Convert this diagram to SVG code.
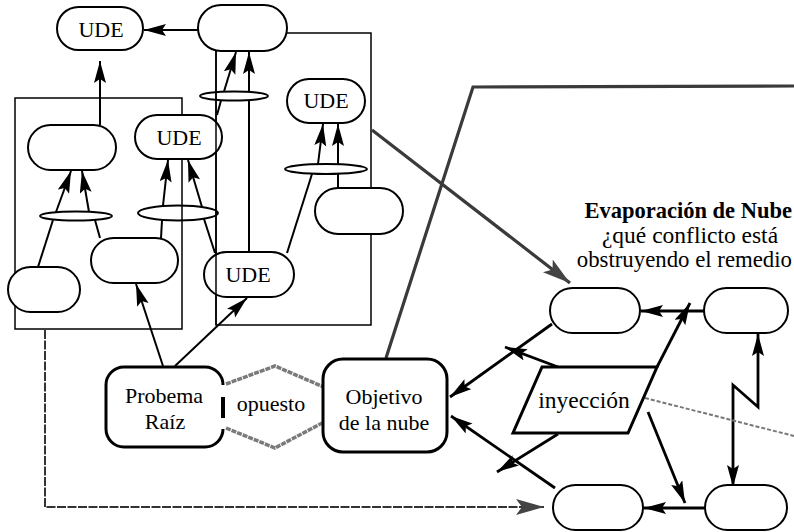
<svg xmlns="http://www.w3.org/2000/svg" width="794" height="532" viewBox="0 0 794 532">
<defs>
<style>
.node{fill:#fff;stroke:#000;stroke-width:2}
.bold{fill:#fff;stroke:#000;stroke-width:3}
.frame{fill:none;stroke:#000;stroke-width:1.5}
.and{fill:none;stroke:#000;stroke-width:2}
.ln{fill:none;stroke:#000;stroke-width:2}
.ln3{fill:none;stroke:#000;stroke-width:2.8}
.dg{fill:none;stroke:#3a3a3a;stroke-width:3.2}
.hx{fill:none;stroke:#7a7a7a;stroke-width:3.5;stroke-dasharray:5 1}
.dot{fill:none;stroke:#777;stroke-width:2;stroke-dasharray:4 2}
.dash{fill:none;stroke:#333;stroke-width:2;stroke-dasharray:9 1.5}
.t{font-family:'Liberation Serif','DejaVu Serif',serif;font-size:22px;fill:#000;text-anchor:middle}
.r{font-size:23.5px}
.b{font-size:22.5px;font-weight:bold}
</style>
<marker id="ah" markerUnits="userSpaceOnUse" markerWidth="24" markerHeight="14" refX="22" refY="6" orient="auto-start-reverse"><path d="M0,0 L22,6 L0,12 L4,6 Z" fill="#000"/></marker>
<marker id="ahg" markerUnits="userSpaceOnUse" markerWidth="30" markerHeight="18" refX="28" refY="8" orient="auto"><path d="M0,0 L28,8 L0,16 L6,8 Z" fill="#444"/></marker>
</defs>
<rect width="794" height="532" fill="#fff"/>

<g id="frames">
<rect class="frame" x="15" y="98" width="167" height="231"/>
<path class="frame" d="M216,51 V325 H371 V33 H287"/>
</g>

<g id="connectors">
<line class="ln" x1="198" y1="30" x2="144" y2="30" marker-end="url(#ah)"/>
<line class="ln" x1="100" y1="125" x2="100" y2="61" marker-end="url(#ah)"/>
<ellipse class="and" cx="76" cy="216" rx="36" ry="4.5"/>
<line class="ln" x1="38" y1="267" x2="53" y2="220"/>
<line class="ln" x1="100" y1="238" x2="95" y2="220"/>
<line class="ln" x1="56" y1="212" x2="71" y2="171" marker-end="url(#ah)"/>
<line class="ln" x1="89" y1="212" x2="82" y2="171" marker-end="url(#ah)"/>
<ellipse class="and" cx="178" cy="213" rx="40" ry="7.5"/>
<line class="ln" x1="161" y1="238" x2="162" y2="220.5"/>
<line class="ln" x1="215" y1="253" x2="204" y2="219"/>
<line class="ln" x1="163" y1="205.5" x2="168" y2="160" marker-end="url(#ah)"/>
<line class="ln" x1="202" y1="207" x2="188" y2="160" marker-end="url(#ah)"/>
<ellipse class="and" cx="234" cy="96" rx="34" ry="4.5"/>
<line class="ln" x1="217" y1="115" x2="221" y2="100.5"/>
<line class="ln" x1="224" y1="91.5" x2="236" y2="52" marker-end="url(#ah)"/>
<line class="ln" x1="249" y1="252" x2="249" y2="100.5"/>
<line class="ln" x1="249" y1="91.5" x2="249" y2="52" marker-end="url(#ah)"/>
<ellipse class="and" cx="326" cy="169" rx="41" ry="5"/>
<line class="ln" x1="287" y1="253" x2="312" y2="174"/>
<line class="ln" x1="338" y1="188" x2="338" y2="174"/>
<line class="ln" x1="318" y1="164" x2="323" y2="124" marker-end="url(#ah)"/>
<line class="ln" x1="338" y1="164" x2="338" y2="124" marker-end="url(#ah)"/>
<line class="ln" x1="163" y1="366" x2="136" y2="284" marker-end="url(#ah)"/>
<line class="ln" x1="175" y1="366" x2="247" y2="298" marker-end="url(#ah)"/>
<line class="dg" x1="372" y1="130" x2="570" y2="283" marker-end="url(#ahg)"/>
<path class="dg" d="M386,358 L473,87 L794,86"/>
<path class="dash" d="M45,330 V507 H544" marker-end="url(#ahg)"/>
<path class="hx" d="M226,384 L275,366 L326,388"/>
<path class="hx" d="M226,428 L275,448 L326,421"/>
<line class="ln3" x1="704" y1="311" x2="641" y2="311" marker-end="url(#ah)"/>
<line class="ln3" x1="657" y1="367" x2="690" y2="303" marker-end="url(#ah)"/>
<line class="ln3" x1="552" y1="324" x2="450" y2="397" marker-end="url(#ah)"/>
<line class="ln3" x1="558" y1="367" x2="505" y2="347" marker-end="url(#ah)"/>
<line class="ln3" x1="555" y1="488" x2="451" y2="416" marker-end="url(#ah)"/>
<line class="ln3" x1="558" y1="434" x2="497" y2="472" marker-end="url(#ah)"/>
<line class="ln3" x1="705" y1="508" x2="644" y2="508" marker-end="url(#ah)"/>
<line class="ln3" x1="648" y1="412" x2="685" y2="503" marker-end="url(#ah)"/>
<path class="ln3" d="M758,334 V407 L733,385 V487" marker-start="url(#ah)" marker-end="url(#ah)"/>
<line class="dot" x1="645" y1="398" x2="794" y2="436"/>
</g>

<g id="n-ude1"><rect class="node" x="57" y="7" width="86" height="43" rx="21.5"/><text class="t" x="101" y="36.5">UDE</text></g>
<g id="n-top"><rect class="node" x="198" y="5" width="89" height="46" rx="23"/></g>
<g id="n-lefttop"><rect class="node" x="28" y="125" width="88" height="45" rx="22.5"/></g>
<g id="n-ude2"><rect class="node" x="135" y="115" width="87" height="44" rx="22"/><text class="t" x="179" y="145">UDE</text></g>
<g id="n-ude3"><rect class="node" x="287" y="79" width="78" height="44" rx="22"/><text class="t" x="326" y="108">UDE</text></g>
<g id="n-rightblank"><rect class="node" x="315" y="188" width="88" height="46" rx="23"/></g>
<g id="n-bottomleft"><rect class="node" x="8" y="267" width="72" height="45" rx="22.5"/></g>
<g id="n-midbottom"><rect class="node" x="91" y="238" width="87" height="45" rx="22.5"/></g>
<g id="n-ude4"><rect class="node" x="204" y="252" width="90" height="45" rx="22.5"/><text class="t" x="248" y="282">UDE</text></g>
<line class="frame" x1="216" y1="51" x2="216" y2="325"/>

<g id="n-probema">
<path class="bold" d="M223,385 A18,18 0 0 0 205,367 H124 A18,18 0 0 0 106,385 V429 A18,18 0 0 0 124,447 H205 A18,18 0 0 0 223,429"/>
<line x1="223" y1="397" x2="223" y2="418" stroke="#000" stroke-width="4"/>
<text class="t" x="164" y="403">Probema</text>
<text class="t" x="165" y="429">Raíz</text>
</g>
<g id="n-opuesto"><text class="t" x="271" y="411">opuesto</text></g>
<g id="n-objetivo">
<rect class="bold" x="323" y="359" width="124" height="93" rx="20"/>
<text class="t" x="384" y="404">Objetivo</text>
<text class="t" x="384" y="430">de la nube</text>
</g>

<g id="title">
<text class="t b" x="792" y="218" text-anchor="end" style="text-anchor:end">Evaporación de Nube</text>
<text class="t r" x="690" y="242.5">¿qué conflicto está</text>
<text class="t r" x="792" y="267" style="text-anchor:end;font-size:22.8px">obstruyendo el remedio</text>
</g>
<g id="c-b"><rect class="node" x="550" y="288" width="90" height="45" rx="22.5"/></g>
<g id="c-d"><rect class="node" x="704" y="288" width="84" height="45" rx="22.5"/></g>
<g id="c-c"><rect class="node" x="553" y="485" width="90" height="45" rx="22.5"/></g>
<g id="c-d2"><rect class="node" x="705" y="485" width="82" height="45" rx="22.5"/></g>
<g id="c-inyeccion">
<polygon class="bold" points="542,367 657,367 628,433 513,433"/>
<text class="t r" x="584" y="408">inyección</text>
</g>
</svg>
